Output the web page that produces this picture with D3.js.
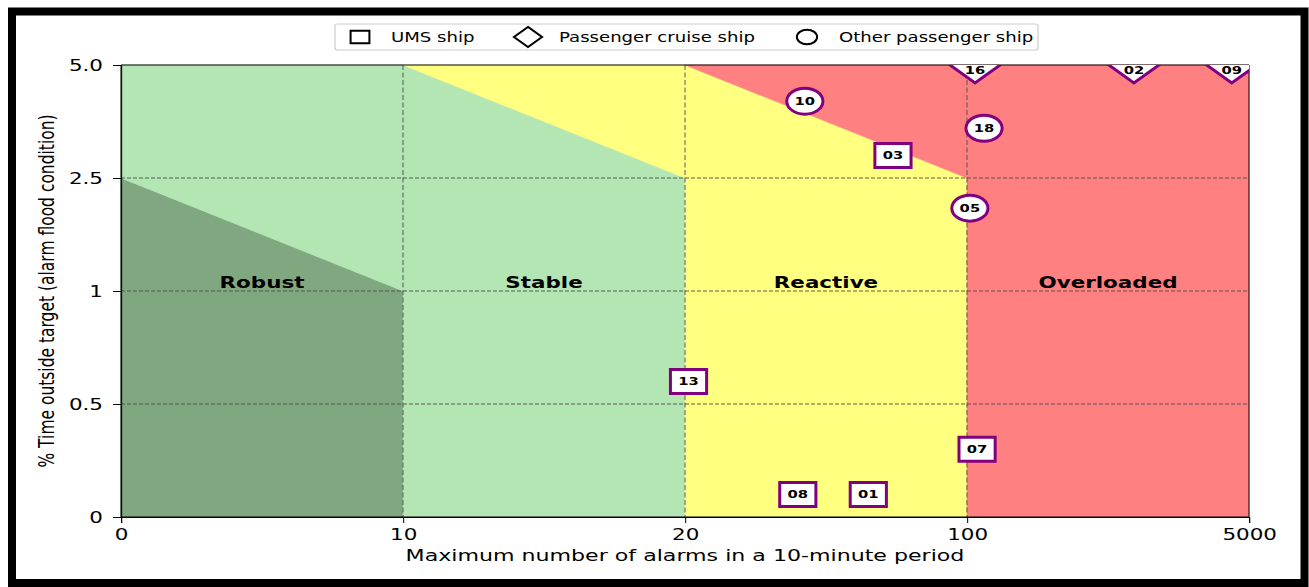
<!DOCTYPE html>
<html><head><meta charset="utf-8">
<script src="https://cdn.jsdelivr.net/npm/d3@7"></script>
<style>html,body{margin:0;padding:0;background:#fff;overflow:hidden;} svg{display:block;} text{font-family:"DejaVu Sans",sans-serif;}</style>
</head><body><svg id="chart"></svg>
<script>
// ---- data ----
const xTickValues = [0, 10, 20, 100, 5000];
const xTickLabels = ["0", "10", "20", "100", "5000"];
const yTickValues = [0, 0.5, 1, 2.5, 5];
const yTickLabels = ["0", "0.5", "1", "2.5", "5.0"];
const yGridValues = [0.5, 1, 2.5];
const xGridValues = [10, 20, 100];

const zoneNames = ["Robust", "Stable", "Reactive", "Overloaded"];
const zoneColors = ["#80a880", "#b3e6b3", "#ffff80", "#ff8080"];
const robustZone = [[0,0],[10,0],[10,1],[0,2.5]];
const stableZone = [[0,2.5],[0,5],[10,5],[20,2.5],[20,0],[10,0],[10,1]];
const reactiveZone = [[10,5],[20,5],[100,2.5],[100,0],[20,0],[20,2.5]];
const overloadedZone = [[20,5],[5000,5],[5000,0],[100,0],[100,2.5]];

const shipIds    = ["01", "02", "03", "05", "07", "08", "09", "10", "13", "16", "18"];
const shipTypes  = ["ums","cruise","ums","other","ums","ums","cruise","other","ums","cruise","other"];
const maxAlarms  = [72, 3000, 79, 150, 275, 52, 4700, 54, 21, 240, 396];
const timeOutside= [0.1, 5.0, 3.0, 2.1, 0.3, 0.1, 5.0, 4.2, 0.6, 5.0, 3.6];

const legendLabels = ["UMS ship", "Passenger cruise ship", "Other passenger ship"];
const legendTypes  = ["ums", "cruise", "other"];

const xLabel = "Maximum number of alarms in a 10-minute period";
const yLabel = "% Time outside target (alarm flood condition)";

// ---- layout (the original image is horizontally stretched) ----
const S = 1.34;
const WIDTH = 1309, HEIGHT = 587;
const VW = WIDTH / S;
const px = v => v / S;

const svg = d3.select("#chart")
  .attr("width", WIDTH).attr("height", HEIGHT)
  .attr("viewBox", `0 0 ${VW} ${HEIGHT}`)
  .attr("preserveAspectRatio", "none");

const x = d3.scaleLinear().domain(xTickValues).range(xTickValues.map((d,i)=>px(121 + i*(1249-121)/4)));
const y = d3.scaleLinear().domain(yTickValues).range(yTickValues.map((d,i)=>517 - i*(517-65)/4));

const plotL = x(0), plotR = x(5000), plotT = y(5), plotB = y(0);

// outer frame
svg.append("rect")
  .attr("x", px(12)).attr("y", 11.5)
  .attr("width", px(1292.5)).attr("height", 571.5)
  .attr("fill", "none").attr("stroke", "#000").attr("stroke-width", 8)
  .attr("vector-effect", "non-scaling-stroke");

// zones
const zones = [robustZone, stableZone, reactiveZone, overloadedZone];
svg.append("g").selectAll("polygon").data(zones).join("polygon")
  .attr("points", z => z.map(p => [x(p[0]), y(p[1])].join(",")).join(" "))
  .attr("fill", (z,i) => zoneColors[i])
  .attr("stroke", (z,i) => zoneColors[i]).attr("stroke-width", 0.5);

// grid
const grid = svg.append("g").attr("stroke", "#4d4d4d").attr("stroke-opacity", 0.6)
  .attr("stroke-width", 1.5).attr("vector-effect", "non-scaling-stroke");
grid.selectAll("line.h").data(yGridValues).join("line").attr("class","h")
  .attr("x1", plotL).attr("x2", plotR).attr("y1", d=>y(d)).attr("y2", d=>y(d))
  .attr("stroke-dasharray", "4,2").attr("vector-effect", "non-scaling-stroke");
grid.selectAll("line.v").data(xGridValues).join("line").attr("class","v")
  .attr("x1", d=>x(d)).attr("x2", d=>x(d)).attr("y1", plotT).attr("y2", plotB)
  .attr("stroke-dasharray", "5,2.5").attr("vector-effect", "non-scaling-stroke");

// zone labels
svg.append("g").selectAll("text").data(zoneNames).join("text")
  .attr("x", (d,i) => (x(xTickValues[i]) + x(xTickValues[i+1]))/2)
  .attr("y", y(1) - 3)
  .attr("text-anchor", "middle")
  .attr("font-weight", "bold").attr("font-size", 16).attr("fill", "#000")
  .text(d => d);

// spines
svg.append("rect").attr("x", plotL).attr("y", plotT)
  .attr("width", plotR - plotL).attr("height", plotB - plotT)
  .attr("fill", "none").attr("stroke", "#000").attr("stroke-width", 1)
  .attr("vector-effect", "non-scaling-stroke");

// axes
const xAxis = d3.axisBottom(x).tickValues(xTickValues)
  .tickFormat((d,i) => xTickLabels[i]).tickSize(6).tickPadding(6);
const gx = svg.append("g").attr("transform", `translate(0,${plotB})`).call(xAxis);
const yAxis = d3.axisLeft(y).tickValues(yTickValues)
  .tickFormat((d,i) => yTickLabels[i]).tickSize(px(8)).tickPadding(px(10));
const gy = svg.append("g").attr("transform", `translate(${plotL},0)`).call(yAxis);
[gx, gy].forEach(g => {
  g.selectAll("path,line").attr("stroke", "#000").attr("stroke-width", 1).attr("vector-effect", "non-scaling-stroke");
  g.selectAll("text").attr("font-size", 16).attr("fill", "#000").attr("font-family", "DejaVu Sans");
});

// axis labels
svg.append("text").attr("x", px(685)).attr("y", 561)
  .attr("text-anchor", "middle").attr("font-size", 16.5).attr("fill", "#000")
  .text(xLabel);
svg.append("text")
  .attr("transform", `translate(${px(54)},${(plotT+plotB)/2}) rotate(-90)`)
  .attr("text-anchor", "middle").attr("font-size", 15.5).attr("fill", "#000")
  .text(yLabel);

// markers
svg.append("clipPath").attr("id", "plotclip").append("rect")
  .attr("x", plotL).attr("y", plotT).attr("width", plotR - plotL).attr("height", plotB - plotT);

function drawShape(g, type, scale, stroke, fill, sw) {
  if (type === "ums") {
    g.append("rect").attr("x", -13.5*scale).attr("y", -12*scale)
      .attr("width", 27*scale).attr("height", 24*scale);
  } else if (type === "cruise") {
    g.append("polygon").attr("points",
      [[0,-18],[18.7,0],[0,18],[-18.7,0]].map(p => [p[0]*scale, p[1]*scale].join(",")).join(" "));
  } else {
    g.append("ellipse").attr("rx", 13.5*scale).attr("ry", 13*scale);
  }
  g.selectAll("rect,polygon,ellipse").attr("fill", fill).attr("stroke", stroke)
    .attr("stroke-width", sw).attr("vector-effect", "non-scaling-stroke");
}

const mk = svg.append("g").attr("clip-path", "url(#plotclip)");
shipIds.forEach((id, i) => {
  const g = mk.append("g").attr("transform", `translate(${x(maxAlarms[i])},${y(timeOutside[i])})`);
  drawShape(g, shipTypes[i], 1, "#800080", "#fff", 3);
  g.append("text").attr("text-anchor", "middle")
    .attr("y", shipTypes[i] === "cruise" ? 5 : 0)
    .attr("dy", "0.36em")
    .attr("font-weight", "bold").attr("font-size", 11).attr("fill", "#000")
    .text(id);
});

// legend
const lg = svg.append("g");
lg.append("rect").attr("x", px(335)).attr("y", 24).attr("width", px(1038-335)).attr("height", 26)
  .attr("rx", 2).attr("fill", "#fff").attr("stroke", "#cccccc").attr("stroke-width", 1.2)
  .attr("vector-effect", "non-scaling-stroke");
const legMarkX = [360, 528, 807];
const legTextX = [391, 559, 839];
legendTypes.forEach((t, i) => {
  const g = lg.append("g").attr("transform", `translate(${px(legMarkX[i])},37)`);
  drawShape(g, t, t === "ums" ? 0.52 : 0.56, "#000", "none", 2);
  lg.append("text").attr("x", px(legTextX[i])).attr("y", 37).attr("dy", "0.35em")
    .attr("font-size", 13.5).attr("fill", "#000").text(legendLabels[i]);
});
</script>
</body></html>
